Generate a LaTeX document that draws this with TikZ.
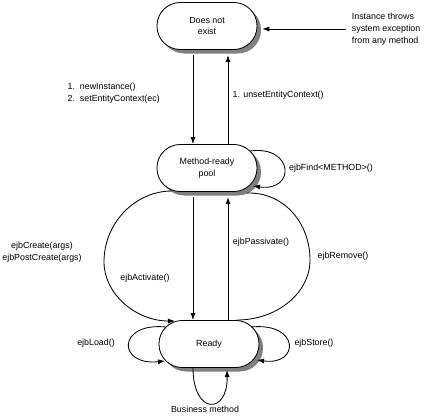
\documentclass[tikz,border=0pt]{standalone}
\usepackage{fontspec}
\setmainfont{Liberation Sans}
\usetikzlibrary{arrows.meta,shadows}

\tikzset{
  stadium/.style={draw, fill=white, line width=0.6pt, rounded corners=0.58cm,
    minimum width=2.5cm, minimum height=1.175cm, align=center, inner sep=1pt,
    drop shadow={shadow xshift=0.1cm, shadow yshift=-0.1cm, fill=black!50, opacity=1}},
  lbl/.style={inner sep=1pt, align=center},
  trans/.style={line width=0.6pt, -{Latex[length=5pt,width=3.6pt]}},
}

\begin{document}
\begin{tikzpicture}[x=0.025cm, y=-0.025cm, font=\fontsize{6.3}{8.5}\selectfont]
  \useasboundingbox (0,0) rectangle (426,415);

  % States
  \node[stadium] (dne) at (207,26) {Does not\\exist};
  \node[stadium] (pool) at (207,168) {Method-ready\\pool};
  \node[stadium] (ready) at (209,344) {Ready};

  % Columns of the straight transitions
  \coordinate (lx) at (193,0);
  \coordinate (rx) at (228,0);
  \coordinate (dneb) at ([yshift=-0.13cm]dne.south);
  \coordinate (poolb) at ([yshift=-0.13cm]pool.south);
  \coordinate (dner) at ([xshift=0.12cm]dne.east);

  % Straight transitions
  \draw[trans] (dneb -| lx) -- (pool.north -| lx);
  \draw[trans] (pool.north -| rx) -- (dneb -| rx);
  \draw[trans] (poolb -| lx) -- (ready.north -| lx);
  \draw[trans] (ready.north -| rx) -- (poolb -| rx);

  % Exception from any state
  \node[lbl, align=left, anchor=west, inner xsep=4pt] (exc) at (346,29)
    {Instance throws\\system exception\\from any method};
  \draw[trans] (exc.west) -- (exc.west -| dner);

  % ejbFind<METHOD>() loop
  \draw[trans] ([shift={(43,-17)}]pool.center) .. controls (294,145) and (296,192)
    .. ([shift={(46,18)}]pool.center);

  % ejbCreate / ejbPostCreate
  \draw[trans] ([shift={(-35,23)}]pool.center) .. controls (135,191) and (104,223)
    .. (104,262) .. controls (104,294) and (136,321) .. ([shift={(-34,-23)}]ready.center);

  % ejbRemove
  \draw[line width=0.6pt] ([shift={(28,-24)}]ready.center) .. controls (277,320) and (310,293)
    .. (310,260) .. controls (310,223) and (284,192) .. ([shift={(40,25)}]pool.center);

  % ejbLoad / ejbStore / business method loops
  \draw[trans] ([shift={(-43,-17)}]ready.center) .. controls (117,322) and (117,366)
    .. ([shift={(-44,17)}]ready.center);
  \draw[trans] ([shift={(42,-17)}]ready.center) .. controls (300,322) and (300,366)
    .. ([shift={(48,16)}]ready.center);
  \draw[trans] ([shift={(-16,24)}]ready.center) .. controls (193,415) and (228,415)
    .. ([shift={(18,26)}]ready.center);

  % Labels
  \node[lbl, align=left, anchor=west] (newi) at (66,93)
    {1.\ \ newInstance()\\2.\ \ setEntityContext(ec)};
  \node[lbl, anchor=west] (unset) at (231,95) {1. unsetEntityContext()};
  \node[lbl] (find) at (331,168) {ejbFind<METHOD>()};
  \node[lbl] (create) at (42,252) {ejbCreate(args)\\ejbPostCreate(args)};
  \node[lbl] (act) at (145,278) {ejbActivate()};
  \node[lbl] (pass) at (261,242) {ejbPassivate()};
  \node[lbl] (rem) at (343,256) {ejbRemove()};
  \node[lbl] (load) at (96,343) {ejbLoad()};
  \node[lbl] (store) at (314,343) {ejbStore()};
  \node[lbl] (biz) at (205,409) {Business method};

\end{tikzpicture}
\end{document}
